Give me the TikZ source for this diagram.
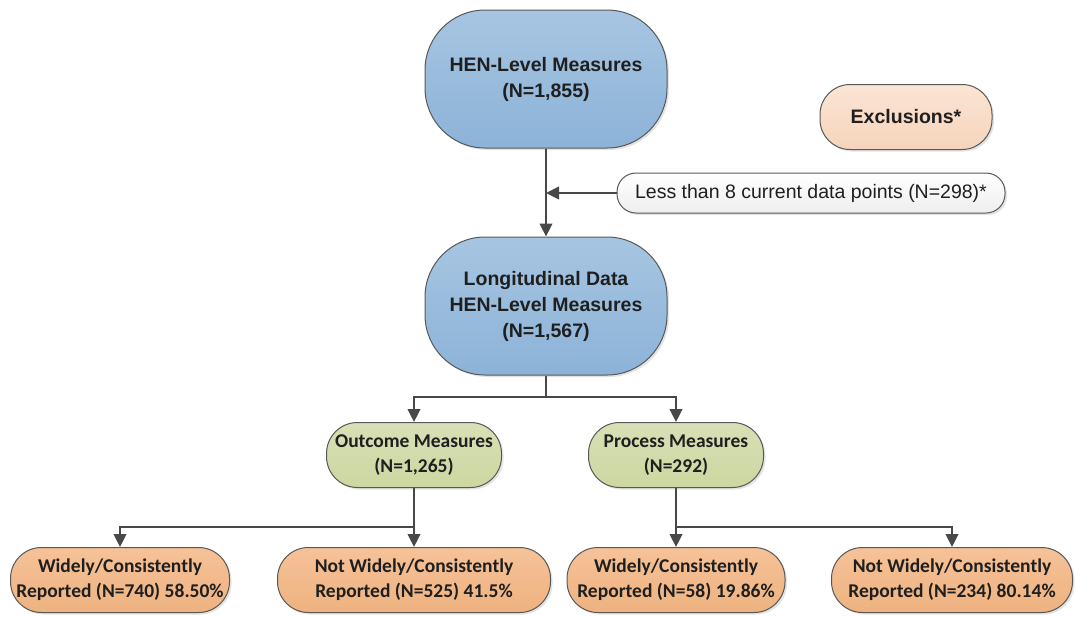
\documentclass[tikz,border=0pt]{standalone}
\usepackage{fontspec}
\setmainfont{Liberation Sans}
\newfontfamily\calibriFont{Carlito}
\usetikzlibrary{shapes,arrows.meta,shadows,calc}
\definecolor{henBlueTop}{RGB}{167,197,225}
\definecolor{henBlueBot}{RGB}{140,179,216}
\definecolor{measGreenTop}{RGB}{216,224,182}
\definecolor{measGreenBot}{RGB}{204,215,160}
\definecolor{repOrangeTop}{RGB}{246,194,152}
\definecolor{repOrangeBot}{RGB}{238,178,128}
\definecolor{exclOrangeTop}{RGB}{251,229,212}
\definecolor{exclOrangeBot}{RGB}{246,212,188}
\definecolor{lessGray}{RGB}{238,238,238}
\definecolor{lineGray}{RGB}{72,72,72}
\definecolor{boxBorder}{RGB}{88,88,88}

\begin{document}
\begin{tikzpicture}[x=1pt,y=-1pt,
  every node/.style={align=center,text=black!88},
  boxBase/.style={draw=boxBorder,line width=1pt,drop shadow={opacity=0.22,shadow xshift=2pt,shadow yshift=-2pt}},
  henBox/.style={boxBase,top color=henBlueTop,bottom color=henBlueBot,rounded corners=60pt,minimum width=242pt,minimum height=138pt,font=\bfseries\fontsize{19.5}{26}\selectfont},
  exclBox/.style={boxBase,top color=exclOrangeTop,bottom color=exclOrangeBot,rounded corners=30pt,minimum width=172pt,minimum height=65pt,font=\bfseries\fontsize{19.5}{26}\selectfont},
  lessBox/.style={boxBase,top color=white,bottom color=lessGray,rounded corners=19pt,minimum width=388pt,minimum height=40pt,font=\fontsize{19.5}{26}\selectfont},
  measBox/.style={boxBase,top color=measGreenTop,bottom color=measGreenBot,rounded corners=31pt,minimum width=175pt,minimum height=65pt,font=\calibriFont\bfseries\fontsize{19.5}{25}\selectfont},
  repBox/.style={boxBase,top color=repOrangeTop,bottom color=repOrangeBot,rounded corners=31pt,minimum height=65pt,font=\calibriFont\bfseries\fontsize{19.5}{25}\selectfont},
  flow/.style={draw=lineGray,line width=2.5pt,-{Triangle[length=13pt,width=12.5pt]}}]

\useasboundingbox (0,0) rectangle (1075,616);

% draw the HEN-level boxes
\node[henBox] (hen) at (546,79) {HEN-Level Measures\\(N=1,855)};
\node[henBox] (longi) at (546,306) {Longitudinal Data\\HEN-Level Measures\\(N=1,567)};

% draw the exclusions
\node[exclBox] (excl) at (906,117) {Exclusions*};
\node[lessBox] (less) at (811,193) {Less than 8 current data points (N=298)*};

% draw the measure types
\node[measBox] (outcome) at (414,455) {Outcome Measures\\(N=1,265)};
\node[measBox] (process) at (676,455) {Process Measures\\(N=292)};

% draw the reporting boxes
\node[repBox,minimum width=219pt] (wid1) at (120,580) {Widely/Consistently\\Reported (N=740) 58.50\%};
\node[repBox,minimum width=273pt] (not1) at (414,580) {Not Widely/Consistently\\Reported (N=525) 41.5\%};
\node[repBox,minimum width=218pt] (wid2) at (676,580) {Widely/Consistently\\Reported (N=58) 19.86\%};
\node[repBox,minimum width=241pt] (not2) at (952,580) {Not Widely/Consistently\\Reported (N=234) 80.14\%};

% branching points
\coordinate (split1) at (546,397);
\coordinate (split2) at (414,527);
\coordinate (split3) at (676,527);

% draw the connectors
\draw[flow] (hen) -- (longi);
\draw[flow] (less.west) -- (less.west -| hen.south);
\draw[draw=lineGray,line width=2.5pt] (longi) -- (split1);
\foreach \b in {outcome,process} \draw[flow] (split1) -| (\b);
\draw[draw=lineGray,line width=2.5pt] (outcome) -- (split2);
\foreach \b in {wid1,not1} \draw[flow] (split2) -| (\b);
\draw[draw=lineGray,line width=2.5pt] (process) -- (split3);
\foreach \b in {wid2,not2} \draw[flow] (split3) -| (\b);

\end{tikzpicture}
\end{document}
